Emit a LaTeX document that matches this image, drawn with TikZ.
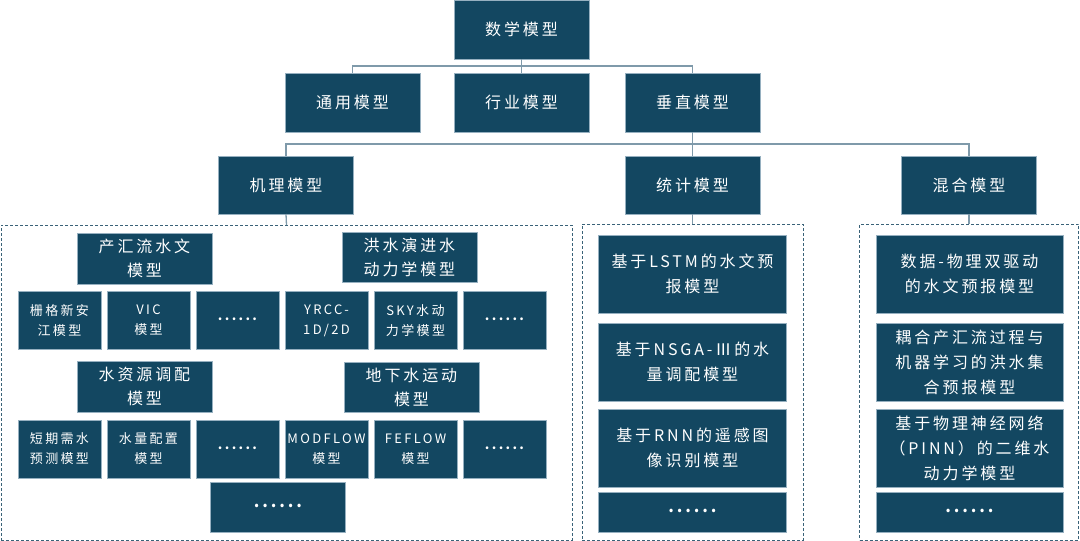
\documentclass[tikz,border=0pt]{standalone}
\usepackage{fontspec}
\usepackage{tikz}
\usetikzlibrary{positioning}
\newfontfamily\cjk[LetterSpace=18]{Noto Sans CJK SC}
\definecolor{boxfill}{RGB}{19,71,97}
\definecolor{boxedge}{RGB}{150,176,192}
\definecolor{linkgray}{RGB}{127,154,170}
\definecolor{framecol}{RGB}{58,98,120}
\newcommand{\moredots}{\raisebox{0.2em}{\bfseries ......}}

\tikzset{
  box/.style={rectangle, fill=boxfill, draw=boxedge, line width=0.6pt, text=white, align=center, inner sep=2pt, outer sep=0pt, font=\cjk\fontsize{16}{24}\selectfont},
  bigbox/.style={box, minimum width=135pt, minimum height=59pt},
  subbox/.style={box, minimum width=135pt, minimum height=50pt},
  smallbox/.style={box, minimum width=83pt, minimum height=58pt, font=\cjk\fontsize{13}{20}\selectfont},
  widebox/.style={box, minimum width=188pt, minimum height=78pt, font=\cjk\fontsize{16}{25}\selectfont},
  frame/.style={rectangle, draw=framecol, line width=0.8pt, dash pattern=on 3pt off 2pt, outer sep=0pt},
  link/.style={draw=linkgray, line width=1.3pt}
}

\begin{document}
\begin{tikzpicture}[x=1pt, y=-1pt]
    \useasboundingbox (0,0) rectangle (1080,541);

    % top levels
    \node[bigbox] (math) at (521.5,29.5) {数学模型};
    \node[bigbox] (hangye) at (521.5,102.5) {行业模型};
    \node[bigbox] (tongyong) [left=34pt of hangye] {通用模型};
    \node[bigbox] (chuizhi) [right=36pt of hangye] {垂直模型};

    \node[bigbox, minimum height=58pt] (jili) at (286,185) {机理模型};
    \node[bigbox, minimum height=58pt] (tongji) at (692.5,185) {统计模型};
    \node[bigbox, minimum height=58pt] (hunhe) at (969,185) {混合模型};

    % dashed groups
    \node[frame, minimum width=571pt, minimum height=315pt] (jiliframe) at (286.5,382.5) {};
    \node[frame, minimum width=221pt, minimum height=316pt] (tongjiframe) at (692.5,382) {};
    \node[frame, minimum width=219pt, minimum height=316pt] (hunheframe) at (969,382) {};

    % mechanism models
    \node[subbox, minimum height=51pt] (chanhui) at (144.5,258.5) {产汇流水文\\模型};
    \node[subbox] (hongshui) at (409.5,257) {洪水演进水\\动力学模型};
    \node[smallbox] (shange) at (59.5,320.5) {栅格新安\\江模型};
    \node[smallbox] (vic) [right=6pt of shange] {VIC\\模型};
    \node[smallbox] (dotsa) [right=6pt of vic] {\moredots};
    \node[smallbox] (yrcc) [right=6pt of dotsa] {YRCC-\\1D/2D};
    \node[smallbox] (sky) [right=6pt of yrcc] {SKY水动\\力学模型};
    \node[smallbox] (dotsb) [right=6pt of sky] {\moredots};

    \node[subbox, minimum height=51pt] (ziyuan) at (144.5,386.5) {水资源调配\\模型};
    \node[subbox] (dixia) at (411.5,387) {地下水运动\\模型};
    \node[smallbox] (duanqi) at (59.5,449) {短期需水\\预测模型};
    \node[smallbox] (peizhi) [right=6pt of duanqi] {水量配置\\模型};
    \node[smallbox] (dotsc) [right=6pt of peizhi] {\moredots};
    \node[smallbox] (modflow) [right=6pt of dotsc] {MODFLOW\\模型};
    \node[smallbox] (feflow) [right=6pt of modflow] {FEFLOW\\模型};
    \node[smallbox] (dotsd) [right=6pt of feflow] {\moredots};
    \node[subbox] (dotsall) at (278,507) {\moredots};

    % statistical models
    \node[widebox] (lstm) at (692.5,274) {基于LSTM的水文预\\报模型};
    \node[widebox] (nsga) [below=10pt of lstm] {基于NSGA-Ⅲ的水\\量调配模型};
    \node[widebox] (rnn) [below=8pt of nsga] {基于RNN的遥感图\\像识别模型};
    \node[widebox, minimum height=40pt] (dotse) [below=5pt of rnn] {\moredots};

    % hybrid models
    \node[widebox, minimum width=187pt] (shuju) at (969.5,274) {数据-物理双驱动\\的水文预报模型};
    \node[widebox, minimum width=187pt] (ouhe) [below=10pt of shuju] {耦合产汇流过程与\\机器学习的洪水集\\合预报模型};
    \node[widebox, minimum width=187pt] (pinn) [below=8pt of ouhe] {基于物理神经网络\\（PINN）的二维水\\动力学模型};
    \node[widebox, minimum width=187pt, minimum height=40pt] (dotsf) [below=5pt of pinn] {\moredots};

    \draw[link] (math.south) -- (hangye.north);
    \draw[link] (math.south) -- ++(0,7) -| (tongyong.north);
    \draw[link] (math.south) -- ++(0,7) -| (chuizhi.north);
    \draw[link] (chuizhi.south) -- (tongji.north);
    \draw[link] (chuizhi.south) -- ++(0,12) -| (jili.north);
    \draw[link] (chuizhi.south) -- ++(0,12) -| (hunhe.north);
    \draw[link] (jili.south) -- (jiliframe.north);
    \draw[link] (tongji.south) -- (tongjiframe.north);
    \draw[link] (hunhe.south) -- (hunheframe.north);
\end{tikzpicture}
\end{document}
